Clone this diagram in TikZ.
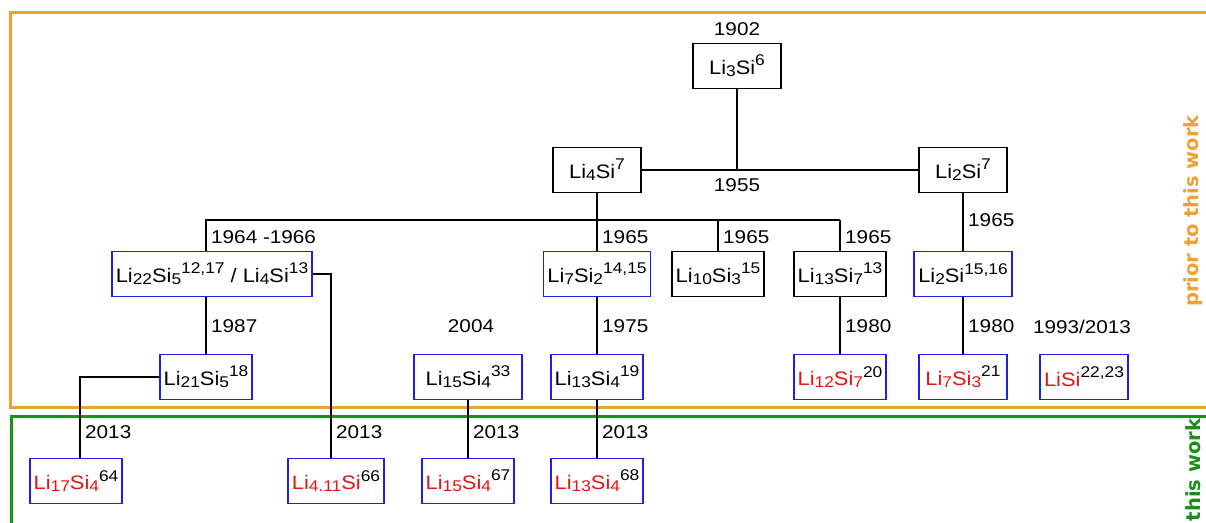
\documentclass[tikz,border=0pt]{standalone}
\usepackage{fontspec}
\setmainfont[FakeStretch=1.12]{Liberation Sans}
\newfontfamily\sidefont{DejaVu Sans}
\definecolor{inkorange}{HTML}{F0A030}
\definecolor{inkgreen}{HTML}{1A8F1A}
\definecolor{inkblue}{HTML}{1F1FE6}
\definecolor{inkred}{HTML}{E61414}
\newcommand{\lo}[1]{\raisebox{-0.2ex}{\fontsize{15.5}{15.5}\selectfont #1}}
\newcommand{\hi}[1]{\raisebox{0.85ex}{\fontsize{15.5}{15.5}\selectfont #1}}
\newcommand{\fresh}[1]{\textcolor{inkred}{#1}}
\newcommand{\phase}[4]{%
  \node[#1] (#2) at (#3) {#4};}
\newcommand{\when}[4]{%
  \node[year,#1] (#2) at (#3) {#4};}

\begin{document}
\begin{tikzpicture}[x=1pt, y=-1pt,
    known/.style={draw=black, line width=1.8pt, fill=white, minimum width=88pt,
      minimum height=45pt, inner xsep=4pt, font=\fontsize{19.5}{22}\selectfont},
    solved/.style={known, draw=inkblue},
    year/.style={inner sep=0pt, font=\fontsize{18.5}{21}\selectfont},
    link/.style={line width=1.8pt},
    side/.style={rotate=90, inner sep=0pt, font=\sidefont\bfseries\fontsize{19.5}{23}\selectfont}]
  \useasboundingbox (0,0) rectangle (1206,522);

  \draw[inkorange, line width=3pt] (1212,12) -- (10,12) -- (10,407) -- (1212,407);
  \draw[inkgreen, line width=3pt] (1212,416) -- (11,416) -- (11,530);
  \node[side, text=inkorange] (prior) at (1193,211) {prior to this work};
  \node[side, text=inkgreen] (ours) at (1193,470) {this work};

  \phase{known}{li3si}{737,66}{Li\lo{3}Si\hi{6}}
  \phase{known}{li4si}{597,170}{Li\lo{4}Si\hi{7}}
  \phase{known}{li2si}{963,170}{Li\lo{2}Si\hi{7}}
  \phase{solved}{li22si5}{212,274}{Li\lo{22}Si\lo{5}\hi{12,17} / Li\lo{4}Si\hi{13}}
  \phase{solved}{li7si2}{597,274}{Li\lo{7}Si\lo{2}\hi{14,15}}
  \phase{known}{li10si3}{718,274}{Li\lo{10}Si\lo{3}\hi{15}}
  \phase{known}{li13si7}{840,274}{Li\lo{13}Si\lo{7}\hi{13}}
  \phase{solved}{li2sib}{963,274}{Li\lo{2}Si\hi{15,16}}
  \phase{solved}{li21si5}{206,377}{Li\lo{21}Si\lo{5}\hi{18}}
  \phase{solved, minimum width=108pt}{li15si4}{468,377}{Li\lo{15}Si\lo{4}\hi{33}}
  \phase{solved}{li13si4}{597,377}{Li\lo{13}Si\lo{4}\hi{19}}
  \phase{solved}{li12si7}{840,377}{\fresh{Li\lo{12}Si\lo{7}}\hi{20}}
  \phase{solved}{li7si3}{963,377}{\fresh{Li\lo{7}Si\lo{3}}\hi{21}}
  \phase{solved}{lisi}{1084,377}{\fresh{LiSi}\hi{22,23}}
  \phase{solved}{li17si4}{76,481}{\fresh{Li\lo{17}Si\lo{4}}\hi{64}}
  \phase{solved}{li411si}{336,481}{\fresh{Li\lo{4.11}Si}\hi{66}}
  \phase{solved}{li15si4n}{468,481}{\fresh{Li\lo{15}Si\lo{4}}\hi{67}}
  \phase{solved}{li13si4n}{597,481}{\fresh{Li\lo{13}Si\lo{4}}\hi{68}}

  \when{}{yr-li3si}{737,29}{1902}
  \when{}{yr-li4si}{737,185}{1955}
  \when{anchor=west}{yr-li22si5}{211,237}{1964 -1966}
  \when{anchor=west}{yr-li7si2}{602,237}{1965}
  \when{anchor=west}{yr-li10si3}{723,237}{1965}
  \when{anchor=west}{yr-li13si7}{845,237}{1965}
  \when{anchor=west}{yr-li2sib}{968,220}{1965}
  \when{anchor=west}{yr-li21si5}{211,326}{1987}
  \when{}{yr-li15si4}{471,326}{2004}
  \when{anchor=west}{yr-li13si4}{602,326}{1975}
  \when{anchor=west}{yr-li12si7}{845,326}{1980}
  \when{anchor=west}{yr-li7si3}{968,326}{1980}
  \when{}{yr-lisi}{1082,327}{1993/2013}
  \when{anchor=west}{yr-li17si4}{85,432}{2013}
  \when{anchor=west}{yr-li411si}{336,432}{2013}
  \when{anchor=west}{yr-li15si4n}{473,432}{2013}
  \when{anchor=west}{yr-li13si4n}{602,432}{2013}

  \coordinate (bus) at (206,220);
  \draw[link] (li3si) -- (li3si |- li4si);
  \draw[link] (li4si) -- (li2si);
  \draw[link] (li4si) -- (li7si2);
  \draw[link] (bus |- li22si5.north) -- (bus) -- (bus -| li13si7);
  \draw[link] (bus -| li10si3) -- (li10si3);
  \draw[link] (bus -| li13si7) -- (li13si7);
  \draw[link] (li2si) -- (li2sib);
  \draw[link] (bus |- li22si5.south) -- (li21si5);
  \draw[link] (li22si5.east) -| ([xshift=-5pt]li411si.north);
  \draw[link] (li21si5.west) -| ([xshift=4pt]li17si4.north);
  \draw[link] (li7si2) -- (li13si4);
  \draw[link] (li13si4) -- (li13si4n);
  \draw[link] (li15si4) -- (li15si4n);
  \draw[link] (li13si7) -- (li12si7);
  \draw[link] (li2sib) -- (li7si3);
\end{tikzpicture}
\end{document}
